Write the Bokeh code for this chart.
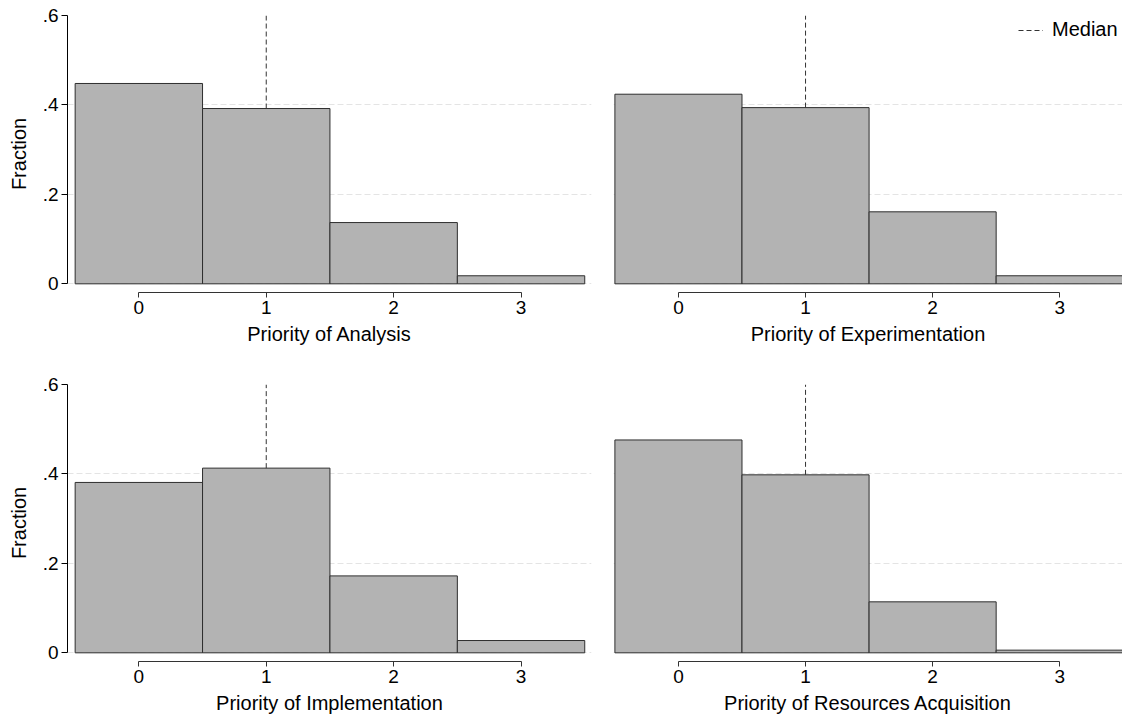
from bokeh.plotting import figure
from bokeh.models import Range1d, FixedTicker, Legend, LegendItem
from bokeh.layouts import column, row
from bokeh.embed import file_html
from bokeh.resources import INLINE

# ---- data ----
categories = [0, 1, 2, 3]
analysis = [0.448, 0.392, 0.137, 0.018]
experimentation = [0.424, 0.394, 0.161, 0.018]
implementation = [0.381, 0.413, 0.172, 0.0275]
resources = [0.476, 0.398, 0.114, 0.006]
medians = [1, 1, 1, 1]
panel_titles = ["Priority of Analysis", "Priority of Experimentation",
                "Priority of Implementation", "Priority of Resources Acquisition"]
y_ticks = [0, 0.2, 0.4, 0.6]
y_tick_labels = ["0", ".2", ".4", ".6"]
x_tick_labels = ["0", "1", "2", "3"]

FONT = "Liberation Sans"
FRAME_H = 277


def panel(values, median, title, width, height, x_start, x_end,
          b_left, b_right, b_top, b_bottom, show_y):
    p = figure(width=width, height=height,
               x_range=Range1d(x_start, x_end), y_range=Range1d(-0.0194, y_ticks[-1]),
               output_backend="svg", toolbar_location=None,
               min_border_left=b_left, min_border_right=b_right,
               min_border_top=b_top, min_border_bottom=b_bottom)
    p.outline_line_color = None
    p.background_fill_color = "white"
    p.border_fill_color = "white"
    p.xgrid.visible = False
    p.ygrid.ticker = FixedTicker(ticks=y_ticks)
    p.ygrid.grid_line_color = "#e4e4e4"
    p.ygrid.grid_line_dash = "6 3"
    p.ygrid.grid_line_width = 1

    lefts = [c - 0.5 for c in categories]
    rights = [c + 0.5 for c in categories]
    p.quad(left=lefts, right=rights, bottom=0, top=values,
           fill_color="#b3b3b3", line_color="#2e2e2e", line_width=1)

    med_top = values[categories.index(median)]
    med = p.segment(x0=[median], y0=[med_top], x1=[median], y1=[y_ticks[-1]],
                    line_color="#333333", line_width=1, line_dash="5 3")

    xa = p.xaxis[0]
    xa.ticker = FixedTicker(ticks=categories)
    xa.major_label_overrides = {c: l for c, l in zip(categories, x_tick_labels)}
    xa.bounds = (categories[0], categories[-1])
    xa.axis_line_color = "#333333"
    xa.major_tick_line_color = "#333333"
    xa.major_tick_out = 5
    xa.major_tick_in = 0
    xa.minor_tick_line_color = None
    xa.major_label_standoff = 3
    xa.major_label_text_font = FONT
    xa.major_label_text_font_size = "19px"
    xa.major_label_text_color = "black"
    xa.axis_label = title
    xa.axis_label_text_font = FONT
    xa.axis_label_text_font_size = "20px"
    xa.axis_label_text_font_style = "normal"
    xa.axis_label_text_color = "black"
    xa.axis_label_standoff = 6

    ya = p.yaxis[0]
    if show_y:
        ya.ticker = FixedTicker(ticks=y_ticks)
        ya.major_label_overrides = {t: l for t, l in zip(y_ticks, y_tick_labels)}
        ya.bounds = (y_ticks[0], y_ticks[-1])
        ya.axis_line_color = "black"
        ya.major_tick_line_color = "black"
        ya.major_tick_out = 6
        ya.major_tick_in = 0
        ya.minor_tick_line_color = None
        ya.major_label_standoff = 3
        ya.major_label_text_font = FONT
        ya.major_label_text_font_size = "19px"
        ya.major_label_text_color = "black"
        ya.axis_label = "Fraction"
        ya.axis_label_text_font = FONT
        ya.axis_label_text_font_size = "20px"
        ya.axis_label_text_font_style = "normal"
        ya.axis_label_text_color = "black"
        ya.axis_label_standoff = 10
    else:
        ya.visible = False
    return p, med


LEFT_W = 608
RIGHT_W = 514
TOP_H = 350
BOT_H = 366

p1, _ = panel(analysis, medians[0], panel_titles[0], LEFT_W, TOP_H, -0.560, 3.553,
              67, 17, 15, TOP_H - 15 - FRAME_H, True)
p2, med2 = panel(experimentation, medians[1], panel_titles[1], RIGHT_W, TOP_H, -0.511, 3.494,
                 5, 0, 15, TOP_H - 15 - FRAME_H, False)
p3, _ = panel(implementation, medians[2], panel_titles[2], LEFT_W, BOT_H, -0.560, 3.553,
              67, 17, 34, BOT_H - 34 - FRAME_H, True)
p4, _ = panel(resources, medians[3], panel_titles[3], RIGHT_W, BOT_H, -0.511, 3.494,
              5, 0, 34, BOT_H - 34 - FRAME_H, False)

legend = Legend(items=[LegendItem(label="Median", renderers=[med2])],
                location=(405, 251), orientation="vertical",
                border_line_color=None, background_fill_alpha=0,
                margin=0, padding=0, spacing=0,
                glyph_width=25, glyph_height=20, label_standoff=9,
                label_text_font=FONT, label_text_font_size="20px",
                label_text_color="black", label_height=20)
p2.add_layout(legend)

layout = column(row(p1, p2), row(p3, p4))

open("out.html", "w").write(file_html(layout, INLINE))
